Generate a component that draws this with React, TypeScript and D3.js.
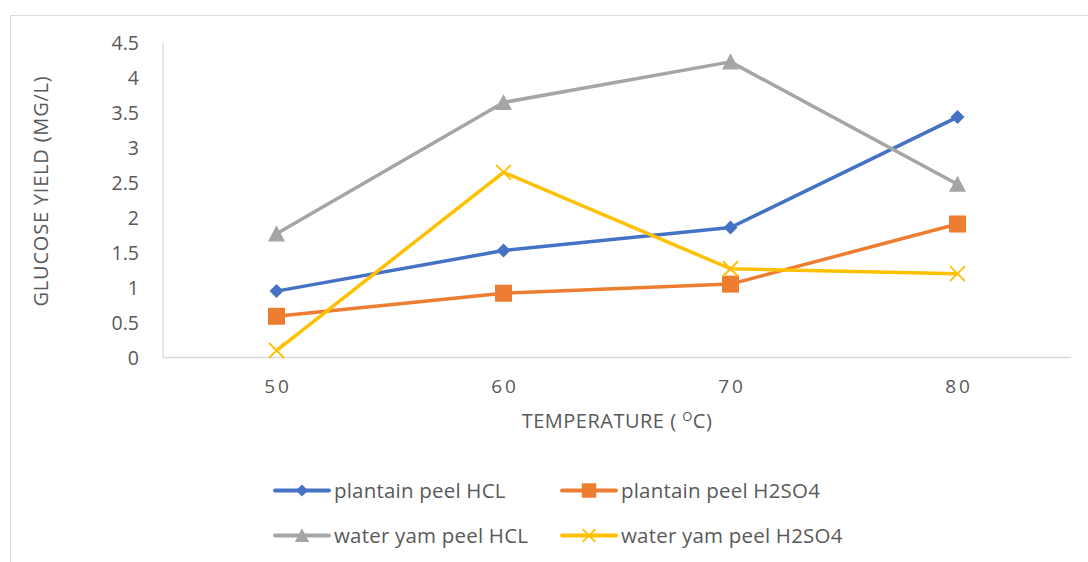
import React from "react";
import * as d3 from "d3";

const categories = ["50", "60", "70", "80"];
const plantainHCL = [0.95, 1.53, 1.86, 3.44];
const plantainH2SO4 = [0.59, 0.92, 1.05, 1.91];
const waterYamHCL = [1.77, 3.65, 4.23, 2.48];
const waterYamH2SO4 = [0.1, 2.65, 1.27, 1.2];
const yTicks = [0, 0.5, 1, 1.5, 2, 2.5, 3, 3.5, 4, 4.5];
const seriesNames = ["plantain peel HCL", "plantain peel H2SO4", "water yam peel HCL", "water yam peel H2SO4"];

const series = [
  { name: seriesNames[0], values: plantainHCL, color: "#4472C4", marker: "diamond" },
  { name: seriesNames[1], values: plantainH2SO4, color: "#ED7D31", marker: "square" },
  { name: seriesNames[2], values: waterYamHCL, color: "#A5A5A5", marker: "triangle" },
  { name: seriesNames[3], values: waterYamH2SO4, color: "#FFC000", marker: "x" },
];

const W = 1088, H = 562;
const plot = { left: 163, right: 1071, top: 43, bottom: 357.5 };
const FONT = "'Open Sans', sans-serif";
const TEXT = "#595959";

function Marker({ type, x, y, color, k = 1 }: { type: string; x: number; y: number; color: string; k?: number }) {
  if (type === "diamond") {
    const s = 7 * k;
    return <path d={`M${x},${y - s}L${x + s},${y}L${x},${y + s}L${x - s},${y}Z`} fill={color} />;
  }
  if (type === "square") {
    const s = 8.5 * k;
    return <rect x={x - s} y={y - s} width={2 * s} height={2 * s} fill={color} />;
  }
  if (type === "triangle") {
    const s = 8.5 * k;
    return <path d={`M${x},${y - s}L${x + s},${y + s * 0.9}L${x - s},${y + s * 0.9}Z`} fill={color} />;
  }
  const s = 7.5 * k;
  return (
    <path d={`M${x - s},${y - s}L${x + s},${y + s}M${x - s},${y + s}L${x + s},${y - s}`} stroke={color} strokeWidth={1.8} fill="none" />
  );
}

export default function App() {
  const x = d3.scaleBand<string>().domain(categories).range([plot.left, plot.right]);
  const y = d3.scaleLinear().domain([0, 4.5]).range([plot.bottom, plot.top]);
  const cx = (c: string) => (x(c) as number) + x.bandwidth() / 2;
  const line = d3
    .line<number>()
    .x((_, i) => cx(categories[i]))
    .y((v) => y(v));

  const legendPos = [
    { lx: 275, ly: 490.5 },
    { lx: 562, ly: 490.5 },
    { lx: 275, ly: 535.5 },
    { lx: 562, ly: 535.5 },
  ];

  return (
    <svg width={W} height={H} style={{ position: "absolute", left: 0, top: 0, background: "#fff" }} fontFamily={FONT}>
      <rect x={10.5} y={15.5} width={1200} height={700} fill="#fff" stroke="#d9d9d9" strokeWidth={1} />
      <line x1={plot.left} x2={plot.left} y1={plot.top} y2={plot.bottom} stroke="#d9d9d9" strokeWidth={1.3} />
      <line x1={plot.left} x2={plot.right} y1={plot.bottom} y2={plot.bottom} stroke="#d9d9d9" strokeWidth={1.3} />
      {yTicks.map((t) => (
        <text key={t} x={139} y={y(t) + 7} textAnchor="end" fontSize={19.5} fill={TEXT}>
          {t}
        </text>
      ))}
      {categories.map((c) => (
        <text key={c} x={cx(c) + 1.5} y={393} textAnchor="middle" fontSize={19} letterSpacing={3} fill={TEXT}>
          {c}
        </text>
      ))}
      <text x={617} y={428} textAnchor="middle" fontSize={20} letterSpacing={0.5} fill={TEXT}>
        TEMPERATURE ( <tspan dy={-7} fontSize={13}>O</tspan>
        <tspan dy={7}>C)</tspan>
      </text>
      <text transform={`translate(48,191) rotate(-90)`} textAnchor="middle" fontSize={20} letterSpacing={0.8} fill={TEXT}>
        GLUCOSE YIELD (MG/L)
      </text>
      {series.map((s) => (
        <g key={s.name}>
          <path d={line(s.values) || ""} fill="none" stroke={s.color} strokeWidth={3.5} strokeLinejoin="round" />
          {s.values.map((v, i) => (
            <Marker key={i} type={s.marker} x={cx(categories[i])} y={y(v)} color={s.color} />
          ))}
        </g>
      ))}
      {series.map((s, i) => {
        const { lx, ly } = legendPos[i];
        return (
          <g key={"lg" + s.name}>
            <line x1={lx} x2={lx + 54} y1={ly} y2={ly} stroke={s.color} strokeWidth={3.8} strokeLinecap="round" />
            <Marker type={s.marker} x={lx + 27} y={ly} color={s.color} k={0.85} />
            <text x={lx + 59} y={ly + 7} fontSize={20.5} letterSpacing={0.2} fill={TEXT}>
              {s.name}
            </text>
          </g>
        );
      })}
    </svg>
  );
}
